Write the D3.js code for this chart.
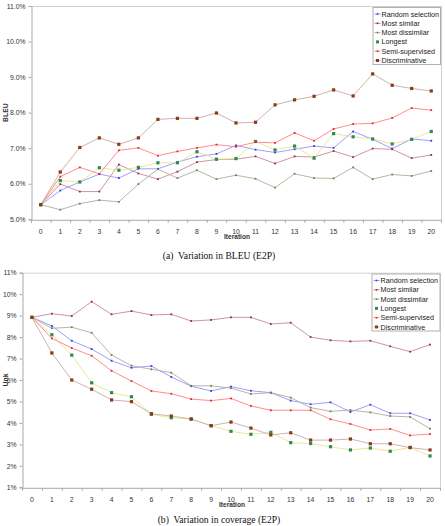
<!DOCTYPE html>
<html><head><meta charset="utf-8">
<script src="https://cdn.jsdelivr.net/npm/d3@7"></script>
<style>body{margin:0;background:#fff}svg{display:block}</style>
</head><body>
<svg id="c" width="445" height="526"></svg>
<script>
const iterations = d3.range(0, 21).map(String);
const seriesNames = ["Random selection","Most similar","Most dissimilar","Longest","Semi-supervised","Discriminative"];

// BLEU (%) per iteration
const bleuRandom        = [5.41,5.81,6.05,6.27,6.16,6.42,6.42,6.61,6.76,6.84,7.08,6.96,6.88,6.97,7.06,7.01,7.47,7.25,6.99,7.26,7.21];
const bleuMostSimilar   = [5.41,5.99,5.78,5.78,6.54,6.29,6.13,6.34,6.61,6.68,6.69,6.77,6.57,6.77,6.75,6.92,6.75,6.99,6.97,6.72,6.81];
const bleuMostDissimilar= [5.41,5.27,5.44,5.54,5.49,5.99,6.41,6.16,6.38,6.13,6.24,6.14,5.89,6.28,6.16,6.15,6.46,6.13,6.26,6.22,6.36];
const bleuLongest       = [5.41,6.09,6.05,6.45,6.38,6.46,6.59,6.59,6.90,6.69,6.71,7.19,6.95,7.06,6.72,7.41,7.32,7.26,7.12,7.25,7.47];
const bleuSemi          = [5.41,6.20,6.46,6.28,6.94,7.01,6.79,6.91,7.01,7.10,7.04,7.17,7.15,7.43,7.21,7.54,7.68,7.70,7.85,8.13,8.07];
const bleuDisc          = [5.41,6.33,7.02,7.29,7.11,7.29,7.81,7.84,7.84,7.99,7.71,7.73,8.22,8.36,8.46,8.64,8.47,9.09,8.77,8.68,8.61];

// Unk rate (%) per iteration
const unkRandom         = [8.92,8.52,7.83,7.44,6.90,6.57,6.65,6.14,5.71,5.49,5.69,5.50,5.41,5.04,4.87,4.96,4.51,4.85,4.45,4.45,4.14];
const unkMostSimilar    = [8.92,9.09,8.98,9.65,9.06,9.21,9.03,9.06,8.75,8.80,8.92,8.92,8.61,8.67,8.00,7.85,7.80,7.83,7.57,7.32,7.65];
const unkMostDissimilar = [8.92,8.41,8.46,8.20,7.16,6.67,6.50,6.34,5.73,5.73,5.62,5.35,5.41,5.18,4.71,4.54,4.60,4.49,4.32,4.28,3.73];
const unkLongest        = [8.92,8.11,7.16,5.87,5.41,5.22,4.40,4.24,4.18,3.87,3.61,3.47,3.56,3.08,3.04,2.89,2.74,2.83,2.68,2.86,2.46];
const unkSemi           = [8.92,7.94,7.49,7.13,6.43,5.95,5.49,5.36,5.11,5.04,5.14,4.79,4.59,4.59,4.59,4.17,3.95,3.67,3.72,3.42,3.48];
const unkDisc           = [8.92,7.26,6.00,5.57,5.07,4.99,4.43,4.32,4.18,3.87,4.04,3.76,3.44,3.54,3.20,3.20,3.25,3.03,3.03,2.85,2.74];

const bleuTicks = [5,6,7,8,9,10,11];
const unkTicks  = [1,2,3,4,5,6,7,8,9,10,11];

const styles = [
  {line:"#9494ff", marker:"#3a3ad0", shape:"dot"},
  {line:"#c88898", marker:"#8e2a4a", shape:"dot"},
  {line:"#afaf98", marker:"#7a7a5a", shape:"dot"},
  {line:"#e6e68a", marker:"#2e8b57", shape:"sq"},
  {line:"#ff8080", marker:"#e02828", shape:"dot"},
  {line:"#c8aaaa", marker:"#8b3a14", shape:"sq"}
];

const svg = d3.select("#c");
const FONT = "Liberation Sans, Arial, sans-serif";

function panel(cfg){
  const x = d3.scaleBand().domain(iterations).range([cfg.left, cfg.right]).padding(0);
  const y = d3.scaleLinear().domain(cfg.domain).range([cfg.bottom, cfg.top]);
  const g = svg.append("g");

  // frame (top & right)
  g.append("path").attr("d", `M${cfg.left},${cfg.top+0.5}H${cfg.right+0.5}V${cfg.bottom}`)
    .attr("fill","none").attr("stroke","#d0d0d0").attr("stroke-width",1);

  // y axis
  const ya = g.append("g").attr("transform",`translate(${cfg.left+0.5},0)`)
    .call(d3.axisLeft(y).tickValues(cfg.ticks).tickSize(3).tickPadding(3).tickFormat(cfg.fmt));
  ya.select(".domain").attr("stroke","#a8a8a8");
  ya.selectAll(".tick line").attr("stroke","#a8a8a8");
  ya.selectAll("text").attr("font-family",FONT).attr("font-size",6.8).attr("fill","#333");

  // x axis with ticks between categories
  const xa = g.append("g").attr("transform",`translate(0,${cfg.bottom+0.5})`)
    .call(d3.axisBottom(x).tickSize(0).tickPadding(9));
  xa.select(".domain").attr("stroke","#a8a8a8");
  xa.selectAll("text").attr("font-family",FONT).attr("font-size",6.8).attr("fill","#333");
  xa.selectAll(".bnd").data(iterations.concat(["end"])).enter().append("line")
    .attr("x1",(d,i)=> (i<iterations.length? x(d): x.range()[1]) + 0.5)
    .attr("x2",(d,i)=> (i<iterations.length? x(d): x.range()[1]) + 0.5)
    .attr("y1",0).attr("y2",3).attr("stroke","#a8a8a8");

  // series
  const line = d3.line().x((d,i)=>x(iterations[i])+x.bandwidth()/2).y(d=>y(d));
  cfg.series.forEach((vals,k)=>{
    const st = styles[k];
    g.append("path").datum(vals).attr("d",line).attr("fill","none")
      .attr("stroke",st.line).attr("stroke-width",0.9);
  });
  cfg.series.forEach((vals,k)=>{
    const st = styles[k];
    const pts = g.selectAll(null).data(vals).enter();
    if(st.shape==="sq"){
      pts.append("rect").attr("x",(d,i)=>x(iterations[i])+x.bandwidth()/2-1.6)
        .attr("y",d=>y(d)-1.6).attr("width",3.2).attr("height",3.2).attr("fill",st.marker);
    } else {
      pts.append("rect").attr("x",(d,i)=>x(iterations[i])+x.bandwidth()/2-0.9)
        .attr("y",d=>y(d)-0.9).attr("width",1.8).attr("height",1.8).attr("fill",st.marker);
    }
  });

  // y title
  g.append("text").attr("transform",`translate(${cfg.ytX},${(cfg.top+cfg.bottom)/2}) rotate(-90)`)
    .attr("text-anchor","middle").attr("font-family",FONT).attr("font-size",6.8)
    .attr("font-weight","bold").attr("fill","#333").text(cfg.ytitle);
  // x title
  g.append("text").attr("x",cfg.xtX).attr("y",cfg.bottom+20)
    .attr("text-anchor","middle").attr("font-family",FONT).attr("font-size",6.6)
    .attr("font-weight","bold").attr("fill","#333").text("Iteration");
  // caption
  g.append("text").attr("x",219).attr("y",cfg.capY).attr("text-anchor","middle")
    .attr("font-family","Liberation Serif, Times New Roman, serif").attr("font-size",9.6)
    .attr("fill","#111").attr("xml:space","preserve").text(cfg.caption);

  // legend
  const L = cfg.legend;
  g.append("rect").attr("x",L.x+0.5).attr("y",L.y+0.5).attr("width",L.w).attr("height",L.h)
    .attr("fill","#fff").attr("stroke","#b0b0b0");
  seriesNames.forEach((nm,k)=>{
    const st = styles[k];
    const cy = L.y + 7 + k*L.step;
    if(st.shape==="sq"){
      if(k!==3) g.append("line").attr("x1",L.x+2).attr("x2",L.x+8).attr("y1",cy).attr("y2",cy).attr("stroke",st.line);
      g.append("rect").attr("x",L.x+5-1.5).attr("y",cy-1.5).attr("width",3).attr("height",3).attr("fill",st.marker);
    } else {
      g.append("line").attr("x1",L.x+2).attr("x2",L.x+8).attr("y1",cy).attr("y2",cy).attr("stroke",st.line);
      g.append("rect").attr("x",L.x+5-0.8).attr("y",cy-0.8).attr("width",1.6).attr("height",1.6).attr("fill",st.marker);
    }
    g.append("text").attr("x",L.x+9).attr("y",cy+2.5).attr("font-family",FONT)
      .attr("font-size",7.2).attr("fill","#222").text(nm);
  });
}

panel({
  left:31, right:441, top:6, bottom:219.3, domain:[5,11], ticks:bleuTicks,
  fmt:d=>d3.format(".1f")(d)+"%",
  series:[bleuRandom,bleuMostSimilar,bleuMostDissimilar,bleuLongest,bleuSemi,bleuDisc],
  ytitle:"BLEU", ytX:8, xtX:237, capY:258.5,
  caption:"(a)  Variation in BLEU (E2P)",
  legend:{x:372.5, y:7, w:67.5, h:57, step:9.3}
});
panel({
  left:22, right:440, top:272.7, bottom:487.3, domain:[1,11], ticks:unkTicks,
  fmt:d=>d+"%",
  series:[unkRandom,unkMostSimilar,unkMostDissimilar,unkLongest,unkSemi,unkDisc],
  ytitle:"Unk", ytX:8, xtX:232, capY:523,
  caption:"(b)  Variation in coverage (E2P)",
  legend:{x:371.5, y:273.5, w:68, h:57, step:9.3}
});
</script>
</body></html>
